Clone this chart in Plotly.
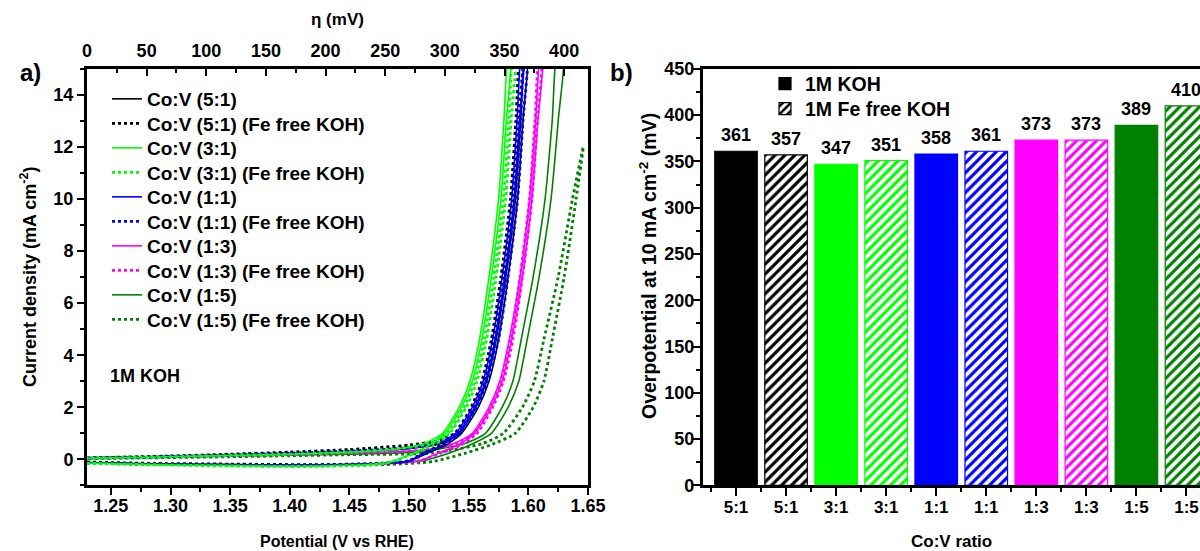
import plotly.graph_objects as go

# ---------------- Panel a) : LSV / CV curves (E vs RHE, j in mA cm-2) ----------------
curve_names = ["Co:V (5:1)", "Co:V (5:1) (Fe free KOH)", "Co:V (3:1)", "Co:V (3:1) (Fe free KOH)",
               "Co:V (1:1)", "Co:V (1:1) (Fe free KOH)", "Co:V (1:3)", "Co:V (1:3) (Fe free KOH)",
               "Co:V (1:5)", "Co:V (1:5) (Fe free KOH)"]
curve_colors = ["#000000", "#000000", "#00FF00", "#00FF00", "#0000FF", "#0000FF",
                "#FF00FF", "#FF00FF", "#008000", "#008000"]
curve_dash = ["solid", "dot"] * 5

# each curve: forward (lower) branch then return (upper) branch
e_51 = [1.23, 1.28, 1.35, 1.42, 1.47, 1.50, 1.516, 1.531, 1.544, 1.558, 1.567, 1.575, 1.583, 1.591, 1.5955, 1.600,
        1.598, 1.5935, 1.589, 1.581, 1.573, 1.565, 1.556, 1.542, 1.526, 1.50, 1.45, 1.40, 1.35, 1.30, 1.23]
j_51 = [-0.12, -0.17, -0.20, -0.21, -0.17, -0.06, 0.25, 0.55, 1.0, 2.0, 3.0, 4.6, 7.0, 10, 13, 16,
        16, 13, 10, 7, 4.6, 3.0, 2.0, 1.0, 0.6, 0.42, 0.30, 0.23, 0.17, 0.11, 0.05]

e_51fe = [1.23, 1.28, 1.35, 1.42, 1.47, 1.50, 1.512, 1.527, 1.540, 1.554, 1.563, 1.571, 1.579, 1.587, 1.5915, 1.596,
          1.594, 1.5895, 1.585, 1.577, 1.569, 1.561, 1.552, 1.538, 1.522, 1.50, 1.45, 1.40, 1.35, 1.30, 1.23]
j_51fe = [-0.10, -0.15, -0.18, -0.20, -0.16, -0.05, 0.25, 0.55, 1.0, 2.0, 3.0, 4.6, 7.0, 10, 13, 16,
          16, 13, 10, 7, 4.6, 3.0, 2.0, 1.0, 0.7, 0.55, 0.38, 0.28, 0.20, 0.13, 0.06]

e_31 = [1.23, 1.28, 1.35, 1.42, 1.48, 1.502, 1.517, 1.530, 1.544, 1.553, 1.561, 1.569, 1.577, 1.5815, 1.586,
        1.584, 1.5795, 1.575, 1.567, 1.559, 1.551, 1.542, 1.528, 1.512, 1.49, 1.45, 1.40, 1.35, 1.30, 1.23]
j_31 = [-0.14, -0.20, -0.24, -0.26, -0.15, 0.20, 0.55, 1.0, 2.0, 3.0, 4.6, 7.0, 10, 13, 16,
        16, 13, 10, 7, 4.6, 3.0, 2.0, 1.0, 0.6, 0.40, 0.28, 0.20, 0.15, 0.10, 0.04]

e_31fe = [1.23, 1.28, 1.35, 1.42, 1.48, 1.506, 1.521, 1.534, 1.548, 1.557, 1.565, 1.573, 1.581, 1.5855, 1.590,
          1.588, 1.5835, 1.579, 1.571, 1.563, 1.555, 1.546, 1.532, 1.516, 1.49, 1.45, 1.40, 1.35, 1.30, 1.23]
j_31fe = [-0.15, -0.20, -0.25, -0.27, -0.15, 0.25, 0.55, 1.0, 2.0, 3.0, 4.6, 7.0, 10, 13, 16,
          16, 13, 10, 7, 4.6, 3.0, 2.0, 1.0, 0.6, 0.40, 0.28, 0.20, 0.15, 0.10, 0.04]

e_11 = [1.23, 1.28, 1.35, 1.42, 1.48, 1.50, 1.513, 1.528, 1.541, 1.555, 1.564, 1.572, 1.580, 1.588, 1.5925, 1.597,
        1.595, 1.5905, 1.586, 1.578, 1.570, 1.562, 1.553, 1.539, 1.523, 1.50, 1.45, 1.40, 1.35, 1.30, 1.23]
j_11 = [-0.13, -0.18, -0.21, -0.22, -0.15, -0.05, 0.25, 0.55, 1.0, 2.0, 3.0, 4.6, 7.0, 10, 13, 16,
        16, 13, 10, 7, 4.6, 3.0, 2.0, 1.0, 0.6, 0.42, 0.30, 0.22, 0.16, 0.11, 0.05]

e_11fe = [1.23, 1.28, 1.35, 1.42, 1.48, 1.50, 1.514, 1.529, 1.543, 1.557, 1.566, 1.575, 1.583, 1.591, 1.5955, 1.600,
          1.598, 1.5935, 1.589, 1.581, 1.573, 1.564, 1.555, 1.541, 1.525, 1.50, 1.45, 1.40, 1.35, 1.30, 1.23]
j_11fe = [-0.13, -0.18, -0.21, -0.22, -0.15, -0.06, 0.25, 0.55, 1.0, 2.0, 3.0, 4.6, 7.0, 10, 13, 16,
          16, 13, 10, 7, 4.6, 3.0, 2.0, 1.0, 0.65, 0.45, 0.32, 0.24, 0.17, 0.11, 0.05]

e_13 = [1.23, 1.28, 1.35, 1.42, 1.48, 1.51, 1.525, 1.541, 1.555, 1.569, 1.578, 1.586, 1.595, 1.603, 1.608, 1.613,
        1.611, 1.606, 1.601, 1.593, 1.584, 1.576, 1.567, 1.553, 1.537, 1.51, 1.45, 1.40, 1.35, 1.30, 1.23]
j_13 = [-0.13, -0.18, -0.21, -0.22, -0.16, -0.03, 0.25, 0.55, 1.0, 2.0, 3.0, 4.6, 7.0, 10, 13, 16,
        16, 13, 10, 7, 4.6, 3.0, 2.0, 1.0, 0.6, 0.35, 0.25, 0.19, 0.14, 0.09, 0.04]

e_13fe = [1.23, 1.28, 1.35, 1.42, 1.48, 1.51, 1.527, 1.543, 1.557, 1.570, 1.579, 1.587, 1.595, 1.603, 1.6075, 1.612,
          1.610, 1.6055, 1.601, 1.593, 1.585, 1.577, 1.568, 1.555, 1.539, 1.51, 1.45, 1.40, 1.35, 1.30, 1.23]
j_13fe = [-0.14, -0.19, -0.22, -0.23, -0.17, -0.04, 0.25, 0.55, 1.0, 2.0, 3.0, 4.6, 7.0, 10, 13, 16,
          16, 13, 10, 7, 4.6, 3.0, 2.0, 1.0, 0.6, 0.35, 0.25, 0.19, 0.14, 0.09, 0.04]

e_15 = [1.23, 1.28, 1.35, 1.42, 1.48, 1.51, 1.534, 1.551, 1.569, 1.583, 1.592, 1.599, 1.609, 1.619, 1.625, 1.630,
        1.625, 1.620, 1.614, 1.604, 1.594, 1.587, 1.578, 1.564, 1.546, 1.51, 1.45, 1.40, 1.35, 1.30, 1.23]
j_15 = [-0.12, -0.17, -0.20, -0.21, -0.17, -0.06, 0.25, 0.55, 1.0, 2.0, 3.0, 4.6, 7.0, 10, 13, 16,
        16, 13, 10, 7, 4.6, 3.0, 2.0, 1.0, 0.6, 0.30, 0.20, 0.16, 0.12, 0.08, 0.03]

e_15fe = [1.23, 1.28, 1.35, 1.42, 1.48, 1.52, 1.548, 1.568, 1.589, 1.604, 1.613, 1.620, 1.630, 1.640, 1.646,
          1.637, 1.625, 1.613, 1.605, 1.595, 1.579, 1.561, 1.52, 1.45, 1.40, 1.35, 1.30, 1.23]
j_15fe = [-0.13, -0.18, -0.22, -0.23, -0.20, -0.08, 0.25, 0.55, 1.0, 2.0, 3.0, 4.6, 7.0, 10, 12,
          10, 7, 4.6, 3.0, 2.0, 1.0, 0.6, 0.25, 0.18, 0.14, 0.10, 0.07, 0.03]

curve_e = [e_51, e_51fe, e_31, e_31fe, e_11, e_11fe, e_13, e_13fe, e_15, e_15fe]
curve_j = [j_51, j_51fe, j_31, j_31fe, j_11, j_11fe, j_13, j_13fe, j_15, j_15fe]

E_REF = 1.23  # eta = (E - 1.23 V) * 1000 mV

# ---------------- Panel b) : overpotential bars ----------------
ratios = ["5:1", "5:1", "3:1", "3:1", "1:1", "1:1", "1:3", "1:3", "1:5", "1:5"]
overpot = [361, 357, 347, 351, 358, 361, 373, 373, 389, 410]
bar_colors = ["#000000", "#000000", "#00FF00", "#00FF00", "#0000FF", "#0000FF",
              "#FF00FF", "#FF00FF", "#008000", "#008000"]
electrolyte = ["1M KOH", "1M Fe free KOH"] * 5
bar_series = ["1M KOH", "1M Fe free KOH"]

FONT = "Liberation Sans"
W, H = 1200, 551


def fnt(size):
    return dict(family=FONT, size=size, color="black", weight="bold")


def px(x):
    return x / W


def py(y):
    return 1 - y / H


fig = go.Figure()

# one legend per curve entry so the rows can sit as tightly as in the original
curve_legend = ["legend" if i == 0 else "legend%d" % (i + 2) for i in range(10)]  # legend, legend3..legend11
bar_legend = ["legend2", "legend12"]

order = [8, 9, 6, 7, 0, 1, 4, 5, 2, 3]  # draw light green on top
for i in order:
    fig.add_trace(go.Scatter(
        x=curve_e[i], y=curve_j[i], mode="lines", name=curve_names[i],
        line=dict(color=curve_colors[i], dash=curve_dash[i],
                  width=1.6 if curve_dash[i] == "solid" else 2.8, shape="spline", smoothing=0.6),
        xaxis="x", yaxis="y", legend=curve_legend[i], hoverinfo="skip"))

# invisible helper trace for the top eta axis
fig.add_trace(go.Scatter(x=[(e - E_REF) * 1000 for e in e_51], y=j_51, mode="lines",
                         line=dict(width=0), opacity=0, showlegend=False, hoverinfo="skip",
                         xaxis="x3", yaxis="y"))

pos = list(range(1, len(ratios) + 1))
for k, lab in enumerate(bar_series):
    idx = [i for i in range(len(ratios)) if electrolyte[i] == lab]
    cols = [bar_colors[i] for i in idx]
    marker = dict(color=cols, line=dict(color=cols, width=1.2))
    if k == 1:
        marker = dict(color="white", line=dict(color=cols, width=1.2),
                      pattern=dict(shape="/", fgcolor=cols, bgcolor="white", size=7,
                                   solidity=0.45, fillmode="replace"))
    fig.add_trace(go.Bar(
        x=[pos[i] for i in idx], y=[overpot[i] for i in idx], name=lab, width=0.85,
        marker=marker, xaxis="x2", yaxis="y2", legend=bar_legend[k], hoverinfo="skip"))

# value labels above the bars
for p, v in zip(pos, overpot):
    fig.add_annotation(x=p, y=v, xref="x2", yref="y2", text=str(v), showarrow=False,
                       yanchor="bottom", yshift=4, font=fnt(18))

YDOM = [0.119, 0.875]
axis_common = dict(showline=True, linewidth=3, linecolor="black", showgrid=False, zeroline=False,
                   automargin=False, tickcolor="black", tickwidth=2)

layout = dict(
    width=W, height=H, margin=dict(l=0, r=0, t=0, b=0),
    paper_bgcolor="white", plot_bgcolor="white",
    font=fnt(16), barmode="overlay", showlegend=True,
    xaxis=dict(domain=[0.0725, 0.49], range=[1.23, 1.65], anchor="y",
               tickmode="linear", tick0=1.25, dtick=0.05, tickformat=".2f",
               ticks="outside", ticklen=7, mirror=True, tickfont=fnt(18), ticklabelstandoff=-5,
               minor=dict(ticks="outside", ticklen=4, tickwidth=2, tickcolor="black", dtick=0.05, tick0=1.275),
               **axis_common),
    yaxis=dict(domain=YDOM, range=[-1, 15], anchor="x", tickmode="linear", tick0=0, dtick=2,
               ticks="outside", ticklen=7, mirror=True, tickfont=fnt(18),
               minor=dict(ticks="outside", ticklen=4, tickwidth=2, tickcolor="black", dtick=2, tick0=1),
               **axis_common),
    xaxis3=dict(overlaying="x", side="top", anchor="y", range=[0, 420], tickmode="linear", tick0=0,
                dtick=50, ticks="inside", ticklen=7, tickfont=fnt(18), ticklabelstandoff=2,
                minor=dict(ticks="inside", ticklen=4, tickwidth=2, tickcolor="black", dtick=50, tick0=25),
                **axis_common),
    xaxis2=dict(domain=[0.5858, 1.0], range=[0.34, 10.27], anchor="y2", tickmode="array",
                tickvals=pos, ticktext=ratios, ticks="outside", ticklen=8, mirror=True, tickfont=fnt(17),
                ticklabelstandoff=-4,
                minor=dict(ticks="outside", ticklen=4, tickwidth=2, tickcolor="black", tickmode="linear",
                           tick0=0.5, dtick=1),
                **axis_common),
    yaxis2=dict(domain=YDOM, range=[0, 450], anchor="x2", tickmode="linear", tick0=0, dtick=50,
                ticks="outside", ticklen=7, tickfont=fnt(18), ticklabelstandoff=-5,
                minor=dict(ticks="outside", ticklen=4, tickwidth=2, tickcolor="black", dtick=50, tick0=25),
                **axis_common),
)
for i in range(10):
    layout[curve_legend[i]] = dict(x=px(107), y=py(99 + 24.5 * i), xanchor="left", yanchor="middle",
                                   bgcolor="rgba(0,0,0,0)", font=fnt(19), itemwidth=30)
for k in range(2):
    layout[bar_legend[k]] = dict(x=px(765), y=py(84 + 25 * k), xanchor="left", yanchor="middle",
                                 bgcolor="rgba(0,0,0,0)", font=fnt(19.5))
fig.update_layout(**layout)

ann = [
    dict(text="a)", x=px(30), y=py(72), font=fnt(24)),
    dict(text="b)", x=px(621), y=py(72), font=fnt(24)),
    dict(text="η (mV)", x=px(337), y=py(20), font=fnt(17)),
    dict(text="Potential (V vs RHE)", x=px(337), y=py(541), font=fnt(16)),
    dict(text="Current density (mA cm<sup>-2</sup>)", x=px(28), y=py(277), font=fnt(18), textangle=-90),
    dict(text="Overpotential at 10 mA cm<sup>-2</sup> (mV)", x=px(648), y=py(266), font=fnt(19.5),
         textangle=-90),
    dict(text="Co:V ratio", x=px(951), y=py(541), font=fnt(17)),
    dict(text="1M KOH", x=px(108), y=py(376), font=fnt(18), xanchor="left"),
]
for a in ann:
    a.setdefault("xanchor", "center")
    fig.add_annotation(xref="paper", yref="paper", showarrow=False, yanchor="middle", **a)

# remove the default page margin so the figure sits at the window's top-left corner
fig.write_html("out.html", config={"displayModeBar": False},
               post_script="document.body.style.margin='0';")
